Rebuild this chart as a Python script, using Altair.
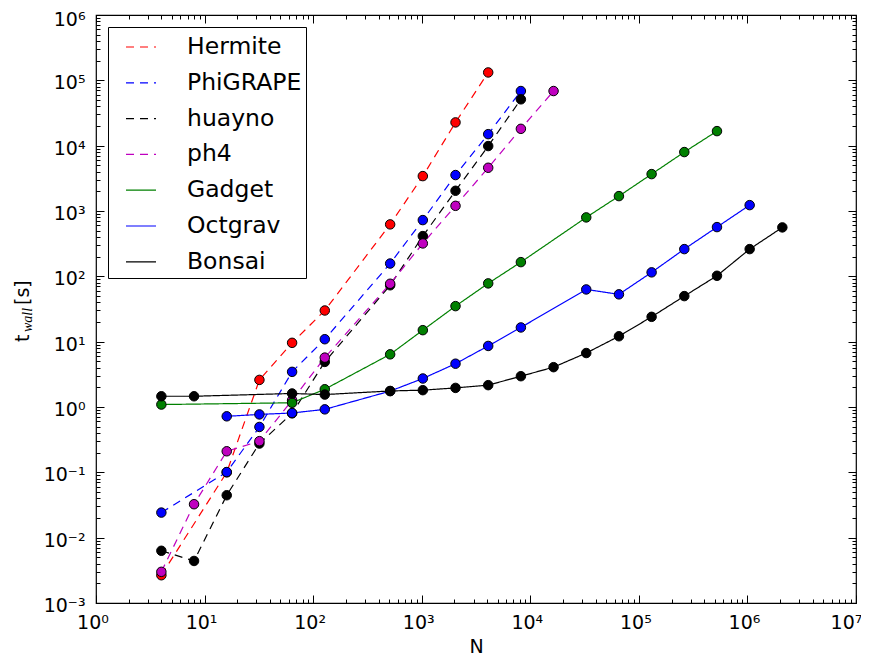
import json
import altair as alt
import pandas as pd

# ---------------- data ----------------
series_names = ["Hermite", "PhiGRAPE", "huayno", "ph4", "Gadget", "Octgrav", "Bonsai"]
series_colors = ["#ff0000", "#0000ff", "#000000", "#bf00bf", "#008000", "#0101fe", "#010101"]
series_dashes = [[8, 6], [8, 6], [8, 6], [8, 6], [1, 0], [1, 0], [1, 0]]

hermite_n = [4, 16, 32, 64, 128, 512, 1024, 2048, 4096]
hermite_t = [0.00266, 0.1, 2.6, 9.6, 30, 624, 3420, 22700, 132000]

phigrape_n = [4, 16, 32, 64, 128, 512, 1024, 2048, 4096, 8192]
phigrape_t = [0.0242, 0.101, 0.495, 3.45, 10.9, 157, 726, 3550, 15000, 68600]

huayno_n = [4, 8, 16, 32, 64, 128, 512, 1024, 2048, 4096, 8192]
huayno_t = [0.0063, 0.0044, 0.0446, 0.276, 0.8, 4.9, 73, 413, 2040, 9860, 51200]

ph4_n = [4, 8, 16, 32, 64, 128, 512, 1024, 2048, 4096, 8192, 16384]
ph4_t = [0.0030, 0.0325, 0.21, 0.30, 1.27, 5.7, 77, 319, 1200, 4590, 18100, 68600]

gadget_n = [4, 64, 128, 512, 1024, 2048, 4096, 8192, 32768, 65536, 131072, 262144, 524288]
gadget_t = [1.09, 1.16, 1.87, 6.4, 15, 35, 78, 165, 798, 1690, 3670, 7980, 16700]

octgrav_n = [16, 32, 64, 128, 512, 1024, 2048, 4096, 8192, 32768, 65536, 131072,
             262144, 524288, 1048576]
octgrav_t = [0.72, 0.77, 0.81, 0.92, 1.75, 2.73, 4.6, 8.6, 16.5, 63, 53, 115, 261, 567, 1230]

bonsai_n = [4, 8, 64, 128, 512, 1024, 2048, 4096, 8192, 16384, 32768, 65536, 131072,
            262144, 524288, 1048576, 2097152]
bonsai_t = [1.46, 1.46, 1.61, 1.55, 1.76, 1.81, 1.96, 2.16, 2.96, 4.07, 6.7, 12.1, 24,
            49.8, 102, 261, 561]

x_decades = [1e0, 1e1, 1e2, 1e3, 1e4, 1e5, 1e6, 1e7]
x_labels = ["10⁰", "10¹", "10²", "10³", "10⁴", "10⁵", "10⁶", "10⁷"]
y_decades = [1e-3, 1e-2, 1e-1, 1e0, 1e1, 1e2, 1e3, 1e4, 1e5, 1e6]
y_labels = ["10⁻³", "10⁻²", "10⁻¹", "10⁰", "10¹", "10²", "10³", "10⁴", "10⁵", "10⁶"]
x_minor = [m * d for d in x_decades[:-1] for m in range(2, 10)]
y_minor = [m * d for d in y_decades[:-1] for m in range(2, 10)]

# ---------------- build table ----------------
all_series = [
    ("Hermite", hermite_n, hermite_t),
    ("PhiGRAPE", phigrape_n, phigrape_t),
    ("huayno", huayno_n, huayno_t),
    ("ph4", ph4_n, ph4_t),
    ("Gadget", gadget_n, gadget_t),
    ("Octgrav", octgrav_n, octgrav_t),
    ("Bonsai", bonsai_n, bonsai_t),
]
rows = []
for name, ns, ts in all_series:
    for n, t in zip(ns, ts):
        rows.append({"series": name, "N": n, "t": t})
df = pd.DataFrame(rows)

W, H = 760, 588

xscale = alt.Scale(type="log", domain=[1, 1e7], nice=False)
yscale = alt.Scale(type="log", domain=[1e-3, 1e6], nice=False)

x_expr = json.dumps(x_labels, ensure_ascii=False) + "[round(log(datum.value)/LN10)]"
y_expr = json.dumps(y_labels, ensure_ascii=False) + "[round(log(datum.value)/LN10)+3]"

x_axis_main = alt.Axis(orient="bottom", values=x_decades, labelExpr=x_expr, ticks=False,
                       domain=False, grid=False, labelFontSize=19, labelPadding=10,
                       labelOffset={"condition": {"test": "datum.value > 5000000", "value": -10},
                                    "value": -3.5},
                       labelFlush=False, labelOverlap=False, title="N",
                       titleFontSize=19, titleFontWeight="normal", titlePadding=5)
y_axis_main = alt.Axis(orient="left", values=y_decades, labelExpr=y_expr, ticks=False,
                       domain=False, grid=False, labelFontSize=19, labelPadding=11,
                       labelOffset={"condition": {"test": "datum.value > 500000", "value": 4.5},
                                    "value": 2.5},
                       labelFlush=False, labelOverlap=False, title="")

legend = alt.Legend(orient="none", legendX=12, legendY=12, title="",
                    labelFontSize=23.5, labelFont="DejaVu Sans", labelColor="black",
                    symbolSize=900, symbolStrokeWidth=1.2, symbolType="stroke",
                    symbolOffset=13, labelOffset=30, rowPadding=7.8, padding=4,
                    strokeColor="black", fillColor="white")

base = alt.Chart(df)
lines = base.mark_line(strokeWidth=1.2).encode(
    x=alt.X("N:Q", scale=xscale, axis=x_axis_main),
    y=alt.Y("t:Q", scale=yscale, axis=y_axis_main),
    stroke=alt.Stroke("series:N", scale=alt.Scale(domain=series_names, range=series_colors),
                      legend=legend),
    strokeDash=alt.StrokeDash("series:N", scale=alt.Scale(domain=series_names, range=series_dashes),
                              legend=legend),
    order=alt.Order("N:Q"),
)
points = base.mark_point(filled=True, size=90, stroke="black", strokeWidth=1, opacity=1).encode(
    x=alt.X("N:Q", scale=xscale, axis=None),
    y=alt.Y("t:Q", scale=yscale, axis=None),
    fill=alt.Fill("series:N", scale=alt.Scale(domain=series_names, range=series_colors),
                  legend=None),
)


def tick_axis(orient, values, size, offset):
    return alt.Axis(orient=orient, values=values, tickSize=size, offset=offset, labels=False,
                    domain=False, grid=False, ticks=True, tickColor="black", tickWidth=1,
                    title="")


dummy = pd.DataFrame({"N": [10.0], "t": [1.0]})
tick_layers = []
for xo, yo in [("top", "right"), ("bottom", "left")]:
    for vals_x, vals_y, size in [(x_decades, y_decades, 8), (x_minor, y_minor, 4)]:
        tick_layers.append(
            alt.Chart(dummy).mark_point(opacity=0).encode(
                x=alt.X("N:Q", scale=xscale, axis=tick_axis(xo, vals_x, size, -H)),
                y=alt.Y("t:Q", scale=yscale, axis=tick_axis(yo, vals_y, size, -W)),
            )
        )

one = pd.DataFrame({"k": [0]})
title_t = alt.Chart(one).mark_text(text="t", angle=270, align="left", baseline="alphabetic",
                                   fontSize=19, font="DejaVu Sans", color="black").encode(
    x=alt.value(-67), y=alt.value(327))
title_wall = alt.Chart(one).mark_text(text="wall", angle=270, align="left", baseline="alphabetic",
                                      fontSize=14, font="Liberation Serif", fontStyle="italic",
                                      color="black").encode(
    x=alt.value(-64), y=alt.value(317))
title_s = alt.Chart(one).mark_text(text="[s]", angle=270, align="left", baseline="alphabetic",
                                   fontSize=19, font="DejaVu Sans", color="black").encode(
    x=alt.value(-67), y=alt.value(290))

chart = alt.layer(lines, points, *tick_layers, title_t, title_wall, title_s).resolve_axis(
    x="independent", y="independent"
).properties(
    width=W, height=H, autosize="none",
    padding={"left": 88, "top": 7, "right": 5, "bottom": 56},
).configure_view(
    stroke="black", strokeWidth=1.2
).configure_axis(
    labelFont="DejaVu Sans", labelColor="black", titleFont="DejaVu Sans", titleColor="black"
)

chart.save("out.html", embed_options={"renderer": "svg", "actions": False})
